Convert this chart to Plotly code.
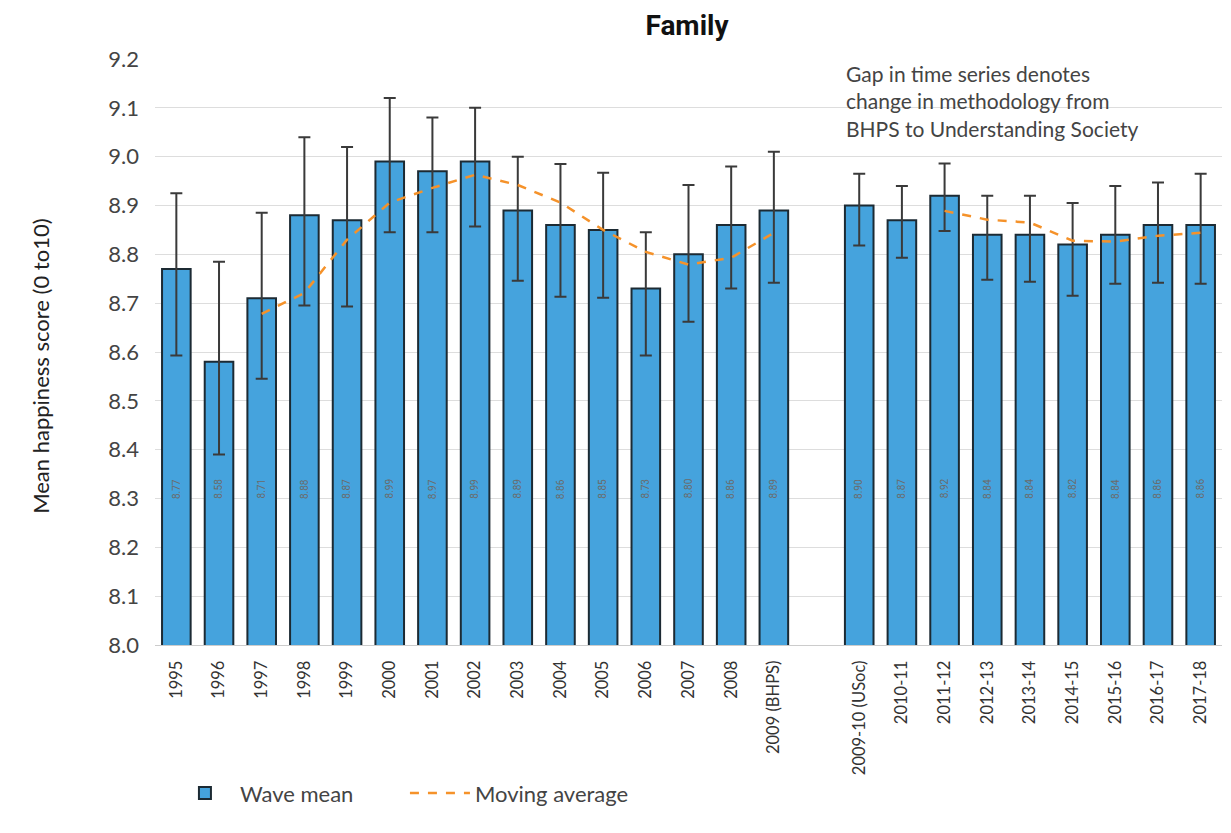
import plotly.graph_objects as go

categories = ["1995", "1996", "1997", "1998", "1999", "2000", "2001", "2002", "2003",
              "2004", "2005", "2006", "2007", "2008", "2009 (BHPS)", " ",
              "2009-10 (USoc)", "2010-11", "2011-12", "2012-13", "2013-14",
              "2014-15", "2015-16", "2016-17", "2017-18"]
wave_mean = [8.77, 8.58, 8.71, 8.88, 8.87, 8.99, 8.97, 8.99, 8.89, 8.86, 8.85, 8.73,
             8.80, 8.86, 8.89, None, 8.90, 8.87, 8.92, 8.84, 8.84, 8.82, 8.84, 8.86, 8.86]
labels = ["8.77", "8.58", "8.71", "8.88", "8.87", "8.99", "8.97", "8.99", "8.89", "8.86",
          "8.85", "8.73", "8.80", "8.86", "8.89", "", "8.90", "8.87", "8.92", "8.84",
          "8.84", "8.82", "8.84", "8.86", "8.86"]
err_upper = [8.925, 8.785, 8.885, 9.04, 9.02, 9.12, 9.08, 9.10, 9.00, 8.985, 8.967, 8.845,
             8.942, 8.98, 9.01, None, 8.965, 8.94, 8.986, 8.92, 8.92, 8.905, 8.94, 8.947, 8.965]
err_lower = [8.593, 8.39, 8.545, 8.695, 8.693, 8.845, 8.845, 8.857, 8.746, 8.713, 8.711,
             8.593, 8.662, 8.73, 8.742, None, 8.818, 8.793, 8.848, 8.748, 8.744, 8.715,
             8.74, 8.742, 8.74]
moving_avg = [None, None, 8.678, 8.721, 8.83, 8.906, 8.936, 8.963, 8.942, 8.906, 8.85,
              8.805, 8.779, 8.793, 8.844, None, None, None, 8.889, 8.871, 8.865, 8.828,
              8.826, 8.838, 8.844]

plus = [None if (u is None or m is None) else u - m for u, m in zip(err_upper, wave_mean)]
minus = [None if (l is None or m is None) else m - l for l, m in zip(err_lower, wave_mean)]

fig = go.Figure()
fig.add_trace(go.Bar(
    x=categories, y=wave_mean, name="Wave mean",
    marker=dict(color="#45A3DD", line=dict(color="#1c2a33", width=2)),
    error_y=dict(type="data", symmetric=False, array=plus, arrayminus=minus,
                 color="#3a3a3a", thickness=2, width=6),
))
fig.add_trace(go.Scatter(
    x=categories, y=moving_avg, name="Moving average", mode="lines",
    line=dict(color="#F5922A", width=2.5, dash="dash"), connectgaps=False,
))

for i, t in enumerate(labels):
    if t:
        fig.add_annotation(x=i, y=8.32, text=t, textangle=-90, showarrow=False,
                           font=dict(size=10, color="#6b6b6b", family="Roboto"))

fig.add_annotation(
    xref="paper", yref="paper", x=0.646, y=1.0, xanchor="left", yanchor="top",
    align="left", showarrow=False,
    text="Gap in time series denotes<br>change in methodology from<br>BHPS to Understanding Society",
    font=dict(size=21, color="#444444", family="Lato"),
)
fig.add_annotation(
    xref="paper", yref="paper", x=-0.108, y=0.476, xanchor="center", yanchor="middle",
    textangle=-90, showarrow=False, text="Mean happiness score (0 to10)",
    font=dict(size=22, color="#222222", family="Lato"),
)

fig.update_layout(
    width=1231, height=833,
    margin=dict(l=147, r=17, t=51, b=196),
    paper_bgcolor="white", plot_bgcolor="white",
    title=dict(text="<b>Family</b>", x=0.5516, xanchor="center", y=0.9796, yanchor="middle",
               font=dict(size=28, color="#111111", family="Roboto")),
    font=dict(family="Lato", color="#333333"),
    bargap=0.33,
    showlegend=True,
    legend=dict(orientation="h", x=0.014, y=-0.253, xanchor="left", yanchor="middle",
                font=dict(size=22, color="#444444"), itemwidth=60, tracegroupgap=0,
                entrywidth=160),
    yaxis=dict(range=[8.0, 9.2], dtick=0.1, tickformat=".1f",
               showgrid=True, gridcolor="#dddddd", gridwidth=1,
               zeroline=False, showline=False, automargin=False,
               tickfont=dict(size=22, color="#444444"), ticks="", ticklabelstandoff=15),
    xaxis=dict(type="category", tickangle=-90, tickfont=dict(size=16.5, color="#333333"),
               showline=True, linecolor="#cccccc", showgrid=False, ticks="",
               ticklabelstandoff=8, automargin=False),
)

fig.write_html("out.html")
